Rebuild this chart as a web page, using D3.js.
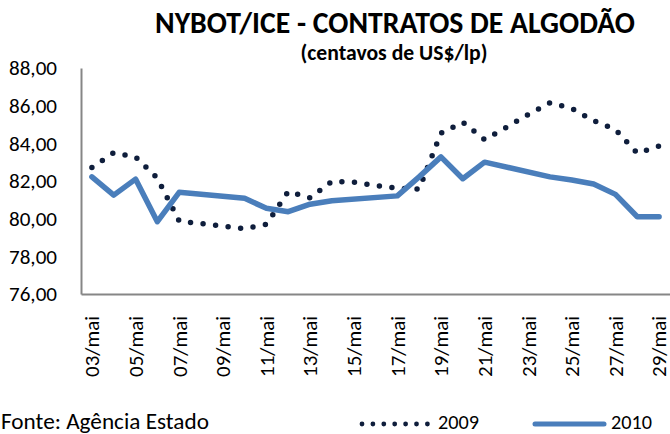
<!DOCTYPE html>
<html>
<head>
<meta charset="utf-8">
<script src="https://cdn.jsdelivr.net/npm/d3@7"></script>
<style>
  html, body { margin: 0; padding: 0; background: #fff; }
  svg { display: block; }
  text { font-family: Carlito, Calibri, Lato, "Liberation Sans", sans-serif; fill: #000; }
</style>
</head>
<body>
<svg id="chart" width="670" height="434"></svg>
<script>
// ---- data ----
const days = ["03/mai","04/mai","05/mai","06/mai","07/mai","08/mai","09/mai","10/mai","11/mai","12/mai",
  "13/mai","14/mai","15/mai","16/mai","17/mai","18/mai","19/mai","20/mai","21/mai","22/mai",
  "23/mai","24/mai","25/mai","26/mai","27/mai","28/mai","29/mai"];
const tickLabels = ["03/mai","05/mai","07/mai","09/mai","11/mai","13/mai","15/mai","17/mai",
  "19/mai","21/mai","23/mai","25/mai","27/mai","29/mai"];
const values2009 = [82.72, 83.50, 83.28, 82.15, 79.87, 79.74, 79.61, 79.47, 79.70, 81.45,
  81.10, 81.98, 81.94, 81.76, 81.62, 81.57, 84.54, 85.12, 84.20, 84.85,
  85.53, 86.16, 85.85, 85.20, 84.73, 83.48, 83.85];
const values2010 = [82.22, 81.25, 82.10, 79.84, 81.40, null, null, 81.08, 80.55, 80.37,
  80.77, 80.95, null, null, 81.21, 82.22, 83.28, 82.12, 83.00, null,
  null, 82.22, 82.05, 81.84, 81.29, 80.10, 80.10];
const yTicks = [76, 78, 80, 82, 84, 86, 88];
const seriesNames = ["2009", "2010"];
const title = "NYBOT/ICE - CONTRATOS DE ALGODÃO";
const subtitle = "(centavos de US$/lp)";
const source = "Fonte: Agência Estado";

// ---- layout ----
const svg = d3.select("#chart");
const mLeft = 81, mRight = 670, mTop = 68, mBottom = 294;
const x = d3.scaleBand().domain(days).range([mLeft, mRight]);
const cx = d => x(d) + x.bandwidth() / 2;
const y = d3.scaleLinear().domain([76, 88]).range([mBottom, mTop]);
const axisColor = "#868686";
const c2009 = "#0f1e3c", c2010 = "#4a7ebb";

function fit(sel, target) {
  const w = sel.node().getComputedTextLength();
  const fs = parseFloat(sel.attr("font-size"));
  sel.attr("font-size", (fs * target / w).toFixed(2));
  return sel;
}

// title
fit(svg.append("text").attr("x", 395).attr("y", 33).attr("text-anchor", "middle")
  .attr("font-weight", "bold").attr("font-size", 28).text(title), 480);
fit(svg.append("text").attr("x", 394).attr("y", 60).attr("text-anchor", "middle")
  .attr("font-weight", "bold").attr("font-size", 18).text(subtitle), 187);

// y axis
const yAxis = d3.axisLeft(y).tickValues(yTicks).tickSize(0).tickPadding(24)
  .tickFormat(d => d3.format(".2f")(d).replace(".", ","));
const gy = svg.append("g").attr("transform", `translate(${mLeft},0)`).call(yAxis);
gy.select(".domain").attr("stroke", axisColor).attr("stroke-width", 2);
gy.selectAll("text").attr("font-family", null).attr("font-size", 19)
  .each(function() { fit(d3.select(this), 48); });

// x axis
const xAxis = d3.axisBottom(x).tickValues(tickLabels).tickSize(0).tickSizeOuter(0);
const gx = svg.append("g").attr("transform", `translate(0,${mBottom})`).call(xAxis);
gx.select(".domain").attr("stroke", axisColor).attr("stroke-width", 2);
gx.selectAll("text").attr("font-family", null).attr("font-size", 19)
  .attr("text-anchor", "end").attr("dy", "0.35em").attr("y", 0)
  .attr("transform", "translate(0,22) rotate(-90)")
  .each(function() { fit(d3.select(this), 61); });

// lines
const line = d3.line().x(d => cx(d.day)).y(d => y(d.v));
const d2009 = days.map((day, i) => ({day, v: values2009[i]})).filter(d => d.v != null);
const d2010 = days.map((day, i) => ({day, v: values2010[i]})).filter(d => d.v != null);

svg.append("path").datum(d2009).attr("d", line).attr("fill", "none")
  .attr("stroke", c2009).attr("stroke-width", 5.5).attr("stroke-linecap", "round")
  .attr("stroke-dasharray", "0 12.6");
svg.append("path").datum(d2010).attr("d", line).attr("fill", "none")
  .attr("stroke", c2010).attr("stroke-width", 5.5).attr("stroke-linejoin", "round")
  .attr("stroke-linecap", "round");

// footer / legend
fit(svg.append("text").attr("x", 1).attr("y", 429).attr("font-size", 19).text(source), 208);
svg.append("line").attr("x1", 362).attr("x2", 427.5).attr("y1", 424).attr("y2", 424)
  .attr("stroke", c2009).attr("stroke-width", 4.8).attr("stroke-linecap", "round")
  .attr("stroke-dasharray", "0 10.9");
fit(svg.append("text").attr("x", 438).attr("y", 429).attr("font-size", 19).text(seriesNames[0]), 41);
svg.append("line").attr("x1", 535).attr("x2", 604).attr("y1", 424).attr("y2", 424)
  .attr("stroke", c2010).attr("stroke-width", 5).attr("stroke-linecap", "round");
fit(svg.append("text").attr("x", 611).attr("y", 429).attr("font-size", 19).text(seriesNames[1]), 41);
</script>
</body>
</html>
